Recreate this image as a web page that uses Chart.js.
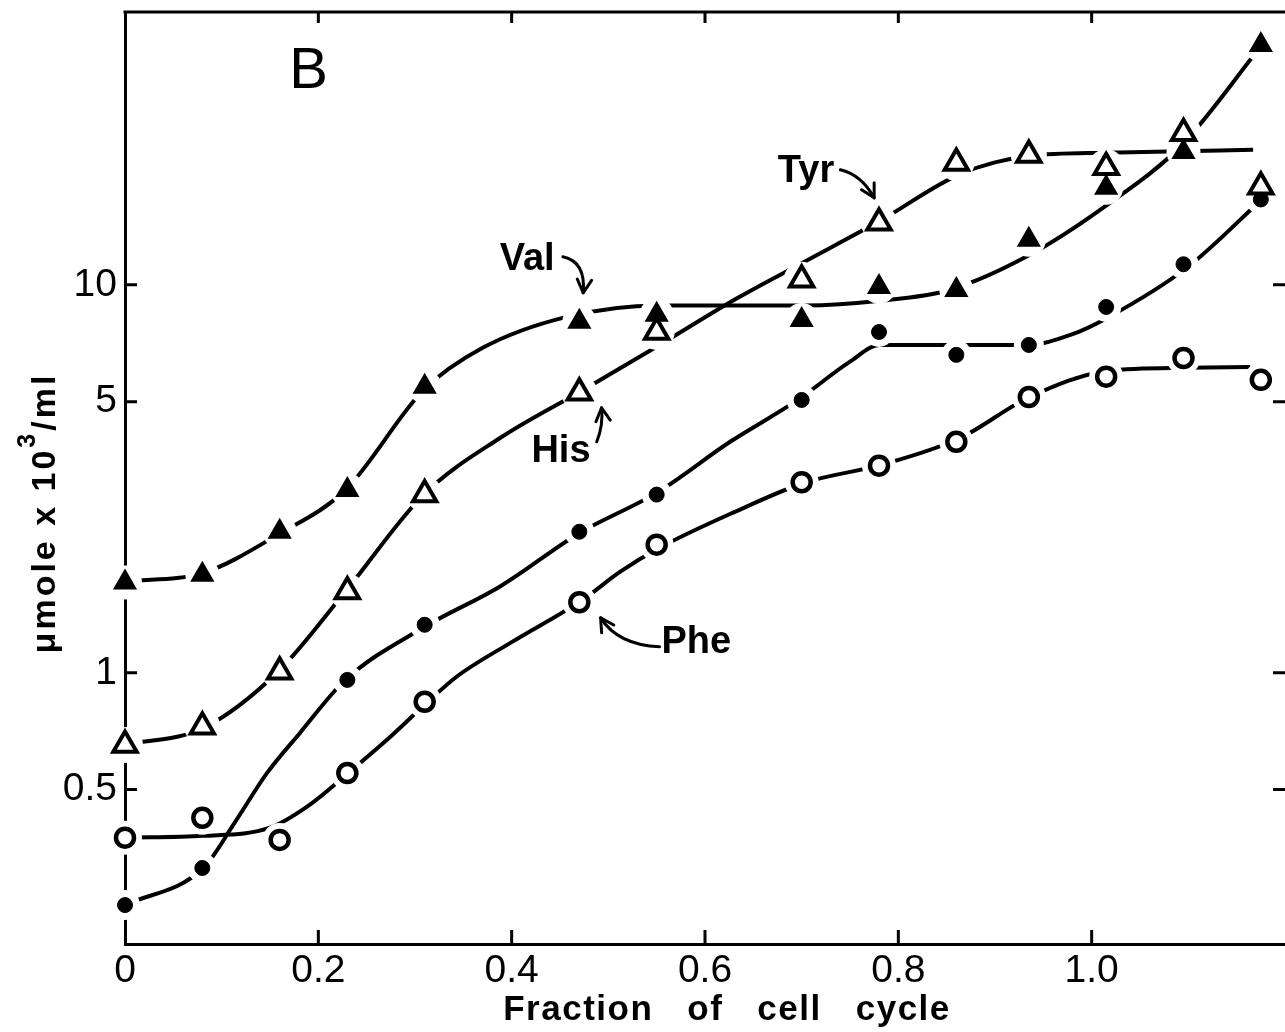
<!DOCTYPE html>
<html>
<head>
<meta charset="utf-8">
<title>Amino acid pools through the cell cycle (B)</title>
<script src="https://cdn.jsdelivr.net/npm/chart.js@4.4.0/dist/chart.umd.min.js"></script>
<style>
  html, body { margin: 0; padding: 0; background: #fff; overflow: hidden; }
</style>
</head>
<body>
<canvas id="poolChart" width="1285" height="1032"></canvas>
<script>
// Sampling times, fraction of cell cycle
const cycleFraction = [0, 0.08, 0.16, 0.23, 0.31, 0.47, 0.55, 0.70, 0.78, 0.86, 0.935, 1.015, 1.095, 1.175];

// Measured pools, umole x 10^3/ml
const valPoints    = [1.71, 1.79, 2.31, 2.96, 5.46, 8.03, 8.37, 8.12, 9.88, 9.7, 13.06, 17.8, 22.0, 41.5];
const hisTyrPoints = [0.652, 0.726, 1.006, 1.62, 2.88, 5.27, 7.56, 10.3, 14.45, 20.6, 21.6, 20.1, 24.6, 17.9];
const dotPoints    = [0.252, 0.314, null, 0.959, 1.33, 2.31, 2.88, 5.05, 7.56, 6.6, 7.0, 8.77, 11.3, 16.6];
const phePoints    = [0.376, 0.423, 0.371, 0.552, 0.842, 1.52, 2.14, 3.10, 3.42, 3.94, 5.14, 5.8, 6.48, 5.69];

// Hand-drawn fitted curves
const valCurveX = [0, 0.081, 0.158, 0.228, 0.309, 0.370, 0.457, 0.553, 0.703, 0.781, 0.853, 0.936, 1.016, 1.093, 1.176];
const valCurveY = [1.72, 1.81, 2.27, 2.96, 5.36, 6.88, 8.27, 8.85, 8.85, 9.1, 9.7, 11.95, 16.07, 22.9, 41.5];

const hisTyrCurveX = [0, 0.081, 0.158, 0.228, 0.309, 0.388, 0.474, 0.553, 0.634, 0.703, 0.781, 0.864, 0.936, 1.016, 1.093, 1.167];
const hisTyrCurveY = [0.652, 0.721, 1.005, 1.62, 2.88, 4.03, 5.36, 7.0, 9.26, 11.47, 14.62, 19.3, 21.5, 21.9, 22.1, 22.3];

const dotCurveX = [0, 0.081, 0.114, 0.147, 0.181, 0.228, 0.309, 0.388, 0.471, 0.550, 0.626, 0.696, 0.750, 0.781, 0.861, 0.933, 0.978, 1.016, 1.099, 1.176];
const dotCurveY = [0.252, 0.314, 0.413, 0.552, 0.700, 0.959, 1.31, 1.67, 2.30, 2.91, 3.94, 5.05, 6.34, 7.0, 7.0, 7.0, 7.43, 8.22, 11.1, 16.6];

const pheCurveX = [0, 0.081, 0.150, 0.191, 0.231, 0.271, 0.310, 0.343, 0.400, 0.473, 0.512, 0.553, 0.631, 0.703, 0.783, 0.864, 0.934, 1.017, 1.097, 1.164];
const pheCurveY = [0.376, 0.380, 0.399, 0.457, 0.552, 0.672, 0.827, 0.977, 1.20, 1.54, 1.82, 2.10, 2.60, 3.09, 3.44, 4.03, 5.11, 6.0, 6.11, 6.14];

// Axis ticks
const xTicks = [0, 0.2, 0.4, 0.6, 0.8, 1.0];
const yTicks = [0.5, 1, 5, 10];

// Curve labels with arrows (data coordinates)
const notes = [
    { text: 'Val', at: [0.416, 11.6],  from: [0.453, 11.81], ctrl: [0.477, 11.46], to: [0.474, 9.54] },
    { text: 'Tyr', at: [0.7045, 19.6], from: [0.740, 19.8],  ctrl: [0.762, 19.21], to: [0.775, 16.76] },
    { text: 'His', at: [0.451, 3.73],  from: [0.488, 3.94],  ctrl: [0.495, 4.36],  to: [0.493, 4.82] },
    { text: 'Phe', at: [0.591, 1.195], from: [0.553, 1.167], ctrl: [0.510, 1.18],  to: [0.492, 1.386] }
];
const panelLetter = { text: 'B', at: [0.190, 35.4] };

const FONT = '"Liberation Sans", Arial, sans-serif';

const toXY = (xs, ys) => xs.map((x, i) => ({ x, y: ys[i] })).filter(p => p.y !== null);

const series = [
    { curveX: valCurveX, curveY: valCurveY, points: valPoints, style: 'triangle', radius: 12, fill: '#000', border: 2, halo: 17 },
    { curveX: hisTyrCurveX, curveY: hisTyrCurveY, points: hisTyrPoints, style: 'triangle', radius: 13.5, fill: '#fff', border: 4, halo: 18 },
    { curveX: dotCurveX, curveY: dotCurveY, points: dotPoints, style: 'circle', radius: 7.5, fill: '#000', border: 1, halo: 15 },
    { curveX: pheCurveX, curveY: pheCurveY, points: phePoints, style: 'circle', radius: 9, fill: '#fff', border: 4.5, halo: 17 }
];

const datasets = [];
series.forEach(s => {
    // curve
    datasets.push({
        data: toXY(s.curveX, s.curveY), borderColor: '#000', borderWidth: 4,
        pointRadius: 0, cubicInterpolationMode: 'monotone', order: 3, clip: false
    });
    // white gap round each marker
    datasets.push({
        data: toXY(cycleFraction, s.points), showLine: false, pointStyle: 'circle',
        pointRadius: s.halo, pointBackgroundColor: '#fff', pointBorderWidth: 0, order: 2, clip: false
    });
    // markers
    datasets.push({
        data: toXY(cycleFraction, s.points), showLine: false, pointStyle: s.style,
        pointRadius: s.radius, pointBackgroundColor: s.fill, pointBorderColor: '#000',
        pointBorderWidth: s.border, order: 1, clip: false
    });
});

const drawArrow = (ctx, p0, c, p1) => {
    ctx.beginPath();
    ctx.moveTo(p0[0], p0[1]);
    ctx.quadraticCurveTo(c[0], c[1], p1[0], p1[1]);
    ctx.stroke();
    const ang = Math.atan2(p1[1] - c[1], p1[0] - c[0]);
    const len = 15, spread = 0.5;
    ctx.beginPath();
    ctx.moveTo(p1[0] - len * Math.cos(ang - spread), p1[1] - len * Math.sin(ang - spread));
    ctx.lineTo(p1[0], p1[1]);
    ctx.lineTo(p1[0] - len * Math.cos(ang + spread), p1[1] - len * Math.sin(ang + spread));
    ctx.stroke();
};

// keep the plot area fixed: no extra room for overhanging tick labels
const noOverhang = s => { s.paddingTop = 0; s.paddingBottom = 0; s.paddingLeft = 0; s.paddingRight = 0; };

const frameAndNotes = {
    id: 'frameAndNotes',
    beforeDatasetsDraw(chart) {
        const { ctx, chartArea: a, scales: { x, y } } = chart;
        ctx.save();
        ctx.strokeStyle = '#000';
        ctx.lineWidth = 3;
        ctx.lineCap = 'butt';
        // top frame line
        ctx.beginPath();
        ctx.moveTo(a.left - 1.5, a.top);
        ctx.lineTo(a.right, a.top);
        ctx.stroke();
        // inward ticks
        ctx.beginPath();
        xTicks.filter(v => v > 0).forEach(v => {
            const px = x.getPixelForValue(v);
            ctx.moveTo(px, a.bottom); ctx.lineTo(px, a.bottom - 14);
            ctx.moveTo(px, a.top); ctx.lineTo(px, a.top + 11);
        });
        yTicks.forEach(v => {
            const py = y.getPixelForValue(v);
            ctx.moveTo(a.left, py); ctx.lineTo(a.left + 12, py);
            ctx.moveTo(a.right, py); ctx.lineTo(a.right - 12, py);
        });
        ctx.stroke();
        ctx.restore();
    },
    afterDatasetsDraw(chart) {
        const { ctx, chartArea: a, scales: { x, y } } = chart;
        const px = p => [x.getPixelForValue(p[0]), y.getPixelForValue(p[1])];
        ctx.save();
        ctx.fillStyle = '#000';
        ctx.strokeStyle = '#000';
        ctx.lineWidth = 3;
        ctx.lineCap = 'round';
        ctx.lineJoin = 'round';

        // curve labels
        ctx.font = 'bold 38px ' + FONT;
        ctx.textAlign = 'center';
        ctx.textBaseline = 'middle';
        notes.forEach(n => {
            const p = px(n.at);
            ctx.fillText(n.text, p[0], p[1]);
            drawArrow(ctx, px(n.from), px(n.ctrl), px(n.to));
        });

        // panel letter
        ctx.font = '58px ' + FONT;
        const b = px(panelLetter.at);
        ctx.fillText(panelLetter.text, b[0], b[1]);

        // x axis title
        ctx.font = 'bold 35px ' + FONT;
        ctx.letterSpacing = '1.5px';
        ctx.textAlign = 'left';
        ctx.textBaseline = 'alphabetic';
        const words = ['Fraction', 'of', 'cell', 'cycle'];
        const gap = 34;
        const widths = words.map(w => ctx.measureText(w).width);
        const total = widths.reduce((s, w) => s + w, 0) + gap * (words.length - 1);
        let cx = (a.left + a.right) / 2 + 22 - total / 2;
        words.forEach((w, i) => {
            ctx.fillText(w, cx, a.bottom + 76);
            cx += widths[i] + gap;
        });

        // y axis title, rotated, with superscript
        ctx.translate(a.left - 70, (a.top + a.bottom) / 2 + 35);
        ctx.rotate(-Math.PI / 2);
        ctx.letterSpacing = '3px';
        const mainFont = 'bold 34px ' + FONT;
        const supFont = 'bold 25px ' + FONT;
        const parts = [
            { t: 'μmole x 10', f: mainFont, dy: 0 },
            { t: '3', f: supFont, dy: -20 },
            { t: '/ml', f: mainFont, dy: 0 }
        ];
        const pw = parts.map(p => { ctx.font = p.f; return ctx.measureText(p.t).width; });
        let tx = -pw.reduce((s, w) => s + w, 0) / 2;
        parts.forEach((p, i) => {
            ctx.font = p.f;
            ctx.fillText(p.t, tx, p.dy);
            tx += pw[i];
        });
        ctx.restore();
    }
};

const tickFont = { family: FONT, size: 39 };

new Chart(document.getElementById('poolChart'), {
    type: 'line',
    data: { datasets },
    options: {
        responsive: false,
        animation: false,
        events: [],
        layout: { autoPadding: false, padding: { top: 12, right: 0, bottom: 0, left: 0 } },
        plugins: { legend: { display: false }, tooltip: { enabled: false } },
        scales: {
            x: {
                type: 'linear', min: 0, max: 1.2,
                grid: { display: false, drawTicks: false, tickLength: 0 },
                border: { display: true, color: '#000', width: 3 },
                ticks: {
                    font: tickFont, color: '#000', padding: 4, maxRotation: 0,
                    callback: v => v === 0 ? '0' : v.toFixed(1)
                },
                afterBuildTicks: s => { s.ticks = xTicks.map(v => ({ value: v })); },
                afterFit: s => { s.height = 88; noOverhang(s); }
            },
            y: {
                type: 'logarithmic', min: 0.2, max: 50.5,
                grid: { display: false, drawTicks: false, tickLength: 0 },
                border: { display: true, color: '#000', width: 3 },
                ticks: { font: tickFont, color: '#000', padding: 8, callback: v => String(v) },
                afterBuildTicks: s => { s.ticks = yTicks.map(v => ({ value: v })); },
                afterFit: s => { s.width = 125; noOverhang(s); }
            }
        }
    },
    plugins: [frameAndNotes]
});
</script>
</body>
</html>
